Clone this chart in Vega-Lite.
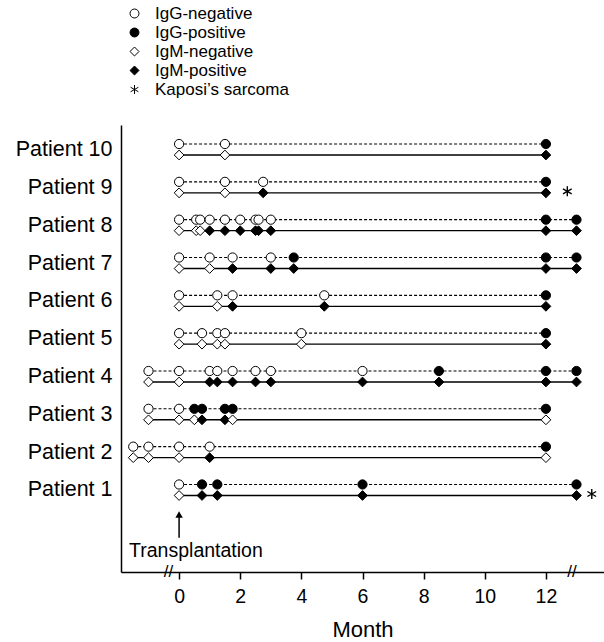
{
  "$schema": "https://vega.github.io/schema/vega-lite/v6.json",
  "autosize": {"type": "none"},
  "width": 483,
  "height": 447,
  "padding": {"left": 121, "top": 125, "right": 0, "bottom": 70},
  "background": "white",
  "config": {
    "view": {"stroke": null},
    "font": "Liberation Sans",
    "axis": {"domainColor": "black", "domainWidth": 1.5, "tickColor": "black", "labelColor": "black", "titleColor": "black", "grid": false},
    "legend": {"title": null, "orient": "none", "legendX": 5, "legendY": -120, "labelFontSize": 17, "labelFont": "Liberation Sans", "labelColor": "black", "symbolSize": 80, "rowPadding": 1, "labelOffset": 12, "padding": 0, "symbolStrokeWidth": 1}
  },
  "datasets": {
    "tests": [
      {"p": 10, "month": 0, "test": "IgG", "result": "negative"},
      {"p": 10, "month": 1.5, "test": "IgG", "result": "negative"},
      {"p": 10, "month": 12, "test": "IgG", "result": "positive"},
      {"p": 10, "month": 0, "test": "IgM", "result": "negative"},
      {"p": 10, "month": 1.5, "test": "IgM", "result": "negative"},
      {"p": 10, "month": 12, "test": "IgM", "result": "positive"},

      {"p": 9, "month": 0, "test": "IgG", "result": "negative"},
      {"p": 9, "month": 1.5, "test": "IgG", "result": "negative"},
      {"p": 9, "month": 2.75, "test": "IgG", "result": "negative"},
      {"p": 9, "month": 12, "test": "IgG", "result": "positive"},
      {"p": 9, "month": 0, "test": "IgM", "result": "negative"},
      {"p": 9, "month": 1.5, "test": "IgM", "result": "negative"},
      {"p": 9, "month": 2.75, "test": "IgM", "result": "positive"},
      {"p": 9, "month": 12, "test": "IgM", "result": "positive"},

      {"p": 8, "month": 0, "test": "IgG", "result": "negative"},
      {"p": 8, "month": 0.56, "test": "IgG", "result": "negative"},
      {"p": 8, "month": 0.69, "test": "IgG", "result": "negative"},
      {"p": 8, "month": 1, "test": "IgG", "result": "negative"},
      {"p": 8, "month": 1.5, "test": "IgG", "result": "negative"},
      {"p": 8, "month": 2, "test": "IgG", "result": "negative"},
      {"p": 8, "month": 2.5, "test": "IgG", "result": "negative"},
      {"p": 8, "month": 2.6, "test": "IgG", "result": "negative"},
      {"p": 8, "month": 3, "test": "IgG", "result": "negative"},
      {"p": 8, "month": 12, "test": "IgG", "result": "positive"},
      {"p": 8, "month": 13, "test": "IgG", "result": "positive"},
      {"p": 8, "month": 0, "test": "IgM", "result": "negative"},
      {"p": 8, "month": 0.56, "test": "IgM", "result": "negative"},
      {"p": 8, "month": 0.69, "test": "IgM", "result": "negative"},
      {"p": 8, "month": 1, "test": "IgM", "result": "positive"},
      {"p": 8, "month": 1.5, "test": "IgM", "result": "positive"},
      {"p": 8, "month": 2, "test": "IgM", "result": "positive"},
      {"p": 8, "month": 2.5, "test": "IgM", "result": "positive"},
      {"p": 8, "month": 2.6, "test": "IgM", "result": "positive"},
      {"p": 8, "month": 3, "test": "IgM", "result": "positive"},
      {"p": 8, "month": 12, "test": "IgM", "result": "positive"},
      {"p": 8, "month": 13, "test": "IgM", "result": "positive"},

      {"p": 7, "month": 0, "test": "IgG", "result": "negative"},
      {"p": 7, "month": 1, "test": "IgG", "result": "negative"},
      {"p": 7, "month": 1.75, "test": "IgG", "result": "negative"},
      {"p": 7, "month": 3, "test": "IgG", "result": "negative"},
      {"p": 7, "month": 3.75, "test": "IgG", "result": "positive"},
      {"p": 7, "month": 12, "test": "IgG", "result": "positive"},
      {"p": 7, "month": 13, "test": "IgG", "result": "positive"},
      {"p": 7, "month": 0, "test": "IgM", "result": "negative"},
      {"p": 7, "month": 1, "test": "IgM", "result": "negative"},
      {"p": 7, "month": 1.75, "test": "IgM", "result": "positive"},
      {"p": 7, "month": 3, "test": "IgM", "result": "positive"},
      {"p": 7, "month": 3.75, "test": "IgM", "result": "positive"},
      {"p": 7, "month": 12, "test": "IgM", "result": "positive"},
      {"p": 7, "month": 13, "test": "IgM", "result": "positive"},

      {"p": 6, "month": 0, "test": "IgG", "result": "negative"},
      {"p": 6, "month": 1.25, "test": "IgG", "result": "negative"},
      {"p": 6, "month": 1.75, "test": "IgG", "result": "negative"},
      {"p": 6, "month": 4.75, "test": "IgG", "result": "negative"},
      {"p": 6, "month": 12, "test": "IgG", "result": "positive"},
      {"p": 6, "month": 0, "test": "IgM", "result": "negative"},
      {"p": 6, "month": 1.25, "test": "IgM", "result": "negative"},
      {"p": 6, "month": 1.75, "test": "IgM", "result": "positive"},
      {"p": 6, "month": 4.75, "test": "IgM", "result": "positive"},
      {"p": 6, "month": 12, "test": "IgM", "result": "positive"},

      {"p": 5, "month": 0, "test": "IgG", "result": "negative"},
      {"p": 5, "month": 0.75, "test": "IgG", "result": "negative"},
      {"p": 5, "month": 1.25, "test": "IgG", "result": "negative"},
      {"p": 5, "month": 1.5, "test": "IgG", "result": "negative"},
      {"p": 5, "month": 4, "test": "IgG", "result": "negative"},
      {"p": 5, "month": 12, "test": "IgG", "result": "positive"},
      {"p": 5, "month": 0, "test": "IgM", "result": "negative"},
      {"p": 5, "month": 0.75, "test": "IgM", "result": "negative"},
      {"p": 5, "month": 1.25, "test": "IgM", "result": "negative"},
      {"p": 5, "month": 1.5, "test": "IgM", "result": "negative"},
      {"p": 5, "month": 4, "test": "IgM", "result": "negative"},
      {"p": 5, "month": 12, "test": "IgM", "result": "positive"},

      {"p": 4, "month": -1, "test": "IgG", "result": "negative"},
      {"p": 4, "month": 0, "test": "IgG", "result": "negative"},
      {"p": 4, "month": 1, "test": "IgG", "result": "negative"},
      {"p": 4, "month": 1.25, "test": "IgG", "result": "negative"},
      {"p": 4, "month": 1.75, "test": "IgG", "result": "negative"},
      {"p": 4, "month": 2.5, "test": "IgG", "result": "negative"},
      {"p": 4, "month": 3, "test": "IgG", "result": "negative"},
      {"p": 4, "month": 6, "test": "IgG", "result": "negative"},
      {"p": 4, "month": 8.5, "test": "IgG", "result": "positive"},
      {"p": 4, "month": 12, "test": "IgG", "result": "positive"},
      {"p": 4, "month": 13, "test": "IgG", "result": "positive"},
      {"p": 4, "month": -1, "test": "IgM", "result": "negative"},
      {"p": 4, "month": 0, "test": "IgM", "result": "negative"},
      {"p": 4, "month": 1, "test": "IgM", "result": "positive"},
      {"p": 4, "month": 1.25, "test": "IgM", "result": "positive"},
      {"p": 4, "month": 1.75, "test": "IgM", "result": "positive"},
      {"p": 4, "month": 2.5, "test": "IgM", "result": "positive"},
      {"p": 4, "month": 3, "test": "IgM", "result": "positive"},
      {"p": 4, "month": 6, "test": "IgM", "result": "positive"},
      {"p": 4, "month": 8.5, "test": "IgM", "result": "positive"},
      {"p": 4, "month": 12, "test": "IgM", "result": "positive"},
      {"p": 4, "month": 13, "test": "IgM", "result": "positive"},

      {"p": 3, "month": -1, "test": "IgG", "result": "negative"},
      {"p": 3, "month": 0, "test": "IgG", "result": "negative"},
      {"p": 3, "month": 0.5, "test": "IgG", "result": "positive"},
      {"p": 3, "month": 0.75, "test": "IgG", "result": "positive"},
      {"p": 3, "month": 1.5, "test": "IgG", "result": "positive"},
      {"p": 3, "month": 1.75, "test": "IgG", "result": "positive"},
      {"p": 3, "month": 12, "test": "IgG", "result": "positive"},
      {"p": 3, "month": -1, "test": "IgM", "result": "negative"},
      {"p": 3, "month": 0, "test": "IgM", "result": "negative"},
      {"p": 3, "month": 0.5, "test": "IgM", "result": "negative"},
      {"p": 3, "month": 0.75, "test": "IgM", "result": "positive"},
      {"p": 3, "month": 1.5, "test": "IgM", "result": "positive"},
      {"p": 3, "month": 1.75, "test": "IgM", "result": "negative"},
      {"p": 3, "month": 12, "test": "IgM", "result": "negative"},

      {"p": 2, "month": -1.5, "test": "IgG", "result": "negative"},
      {"p": 2, "month": -1, "test": "IgG", "result": "negative"},
      {"p": 2, "month": 0, "test": "IgG", "result": "negative"},
      {"p": 2, "month": 1, "test": "IgG", "result": "negative"},
      {"p": 2, "month": 12, "test": "IgG", "result": "positive"},
      {"p": 2, "month": -1.5, "test": "IgM", "result": "negative"},
      {"p": 2, "month": -1, "test": "IgM", "result": "negative"},
      {"p": 2, "month": 0, "test": "IgM", "result": "negative"},
      {"p": 2, "month": 1, "test": "IgM", "result": "positive"},
      {"p": 2, "month": 12, "test": "IgM", "result": "negative"},

      {"p": 1, "month": 0, "test": "IgG", "result": "negative"},
      {"p": 1, "month": 0.75, "test": "IgG", "result": "positive"},
      {"p": 1, "month": 1.25, "test": "IgG", "result": "positive"},
      {"p": 1, "month": 6, "test": "IgG", "result": "positive"},
      {"p": 1, "month": 13, "test": "IgG", "result": "positive"},
      {"p": 1, "month": 0, "test": "IgM", "result": "negative"},
      {"p": 1, "month": 0.75, "test": "IgM", "result": "positive"},
      {"p": 1, "month": 1.25, "test": "IgM", "result": "positive"},
      {"p": 1, "month": 6, "test": "IgM", "result": "positive"},
      {"p": 1, "month": 13, "test": "IgM", "result": "positive"}
    ],
    "kaposi": [
      {"p": 9, "month": 12.7, "cat": "Kaposi’s sarcoma"},
      {"p": 1, "month": 13.5, "cat": "Kaposi’s sarcoma"}
    ],
    "breaks": [
      {"month": -0.35, "mark": "//"},
      {"month": 12.85, "mark": "//"}
    ],
    "event": [
      {"month": 0, "label": "Transplantation"}
    ]
  },
  "layer": [
    {
      "data": {"name": "tests"},
      "transform": [
        {"filter": "datum.test == 'IgG'"},
        {"aggregate": [{"op": "min", "field": "month", "as": "start"}, {"op": "max", "field": "month", "as": "end"}], "groupby": ["p"]}
      ],
      "mark": {"type": "rule", "strokeDash": [3, 2], "strokeWidth": 1.1, "color": "black", "yOffset": -5.5},
      "encoding": {
        "x": {"field": "start", "type": "quantitative",
              "scale": {"domain": [-1.9, 13.9], "nice": false, "zero": false},
              "axis": {"title": "Month", "values": [0, 2, 4, 6, 8, 10, 12], "tickSize": 7, "tickWidth": 1.5, "labelFontSize": 19.5, "labelPadding": 8, "titleFontSize": 22, "titleFontWeight": "normal", "titlePadding": 14}},
        "x2": {"field": "end"},
        "y": {"field": "p", "type": "quantitative",
              "scale": {"domain": [-1.168, 10.648], "nice": false, "zero": false},
              "axis": {"title": null, "values": [1, 2, 3, 4, 5, 6, 7, 8, 9, 10], "labelExpr": "'Patient ' + datum.value", "ticks": false, "labelFontSize": 21.5, "labelPadding": 9}}
      }
    },
    {
      "data": {"name": "tests"},
      "transform": [
        {"filter": "datum.test == 'IgM'"},
        {"aggregate": [{"op": "min", "field": "month", "as": "start"}, {"op": "max", "field": "month", "as": "end"}], "groupby": ["p"]}
      ],
      "mark": {"type": "rule", "strokeWidth": 1.4, "color": "black", "yOffset": 5.5},
      "encoding": {
        "x": {"field": "start", "type": "quantitative"},
        "x2": {"field": "end"},
        "y": {"field": "p", "type": "quantitative"}
      }
    },
    {
      "data": {"name": "tests"},
      "transform": [
        {"filter": "datum.test == 'IgG'"},
        {"calculate": "datum.test + '-' + datum.result", "as": "cat"}
      ],
      "mark": {"type": "point", "filled": true, "strokeWidth": 1, "size": 85, "yOffset": -5.5, "opacity": 1},
      "encoding": {
        "x": {"field": "month", "type": "quantitative"},
        "y": {"field": "p", "type": "quantitative"},
        "shape": {"field": "cat", "type": "nominal",
                  "scale": {"domain": ["IgG-negative", "IgG-positive", "IgM-negative", "IgM-positive", "Kaposi’s sarcoma"],
                            "range": ["circle", "circle", "diamond", "diamond", "M0,-1L0,1M-0.87,-0.5L0.87,0.5M-0.87,0.5L0.87,-0.5"]}},
        "fill": {"field": "cat", "type": "nominal",
                 "scale": {"domain": ["IgG-negative", "IgG-positive", "IgM-negative", "IgM-positive", "Kaposi’s sarcoma"],
                           "range": ["white", "black", "white", "black", "black"]}},
        "stroke": {"field": "cat", "type": "nominal",
                   "scale": {"domain": ["IgG-negative", "IgG-positive", "IgM-negative", "IgM-positive", "Kaposi’s sarcoma"],
                             "range": ["black", "black", "black", "black", "black"]}}
      }
    },
    {
      "data": {"name": "tests"},
      "transform": [
        {"filter": "datum.test == 'IgM'"},
        {"calculate": "datum.test + '-' + datum.result", "as": "cat"}
      ],
      "mark": {"type": "point", "filled": true, "strokeWidth": 1, "size": 95, "yOffset": 5.5, "opacity": 1},
      "encoding": {
        "x": {"field": "month", "type": "quantitative"},
        "y": {"field": "p", "type": "quantitative"},
        "shape": {"field": "cat", "type": "nominal"},
        "fill": {"field": "cat", "type": "nominal"},
        "stroke": {"field": "cat", "type": "nominal"}
      }
    },
    {
      "data": {"name": "kaposi"},
      "mark": {"type": "point", "filled": true, "strokeWidth": 1.4, "size": 100, "yOffset": 4, "opacity": 1},
      "encoding": {
        "x": {"field": "month", "type": "quantitative"},
        "y": {"field": "p", "type": "quantitative"},
        "shape": {"field": "cat", "type": "nominal"},
        "fill": {"field": "cat", "type": "nominal"},
        "stroke": {"field": "cat", "type": "nominal"}
      }
    },
    {
      "data": {"name": "breaks"},
      "mark": {"type": "text", "fontSize": 17, "color": "black", "baseline": "middle", "align": "center", "font": "Liberation Sans"},
      "encoding": {
        "x": {"field": "month", "type": "quantitative"},
        "y": {"datum": -1.168},
        "text": {"field": "mark"}
      }
    },
    {
      "data": {"name": "event"},
      "mark": {"type": "rule", "strokeWidth": 1.5, "color": "black"},
      "encoding": {
        "x": {"field": "month", "type": "quantitative"},
        "y": {"datum": 0.36},
        "y2": {"datum": -0.26}
      }
    },
    {
      "data": {"name": "event"},
      "mark": {"type": "point", "shape": "triangle-up", "filled": true, "color": "black", "size": 55, "opacity": 1},
      "encoding": {
        "x": {"field": "month", "type": "quantitative"},
        "y": {"datum": 0.35}
      }
    },
    {
      "data": {"name": "event"},
      "mark": {"type": "text", "fontSize": 19.5, "color": "black", "align": "left", "baseline": "middle", "dx": -50, "font": "Liberation Sans"},
      "encoding": {
        "x": {"field": "month", "type": "quantitative"},
        "y": {"datum": -0.62},
        "text": {"field": "label"}
      }
    }
  ]
}
